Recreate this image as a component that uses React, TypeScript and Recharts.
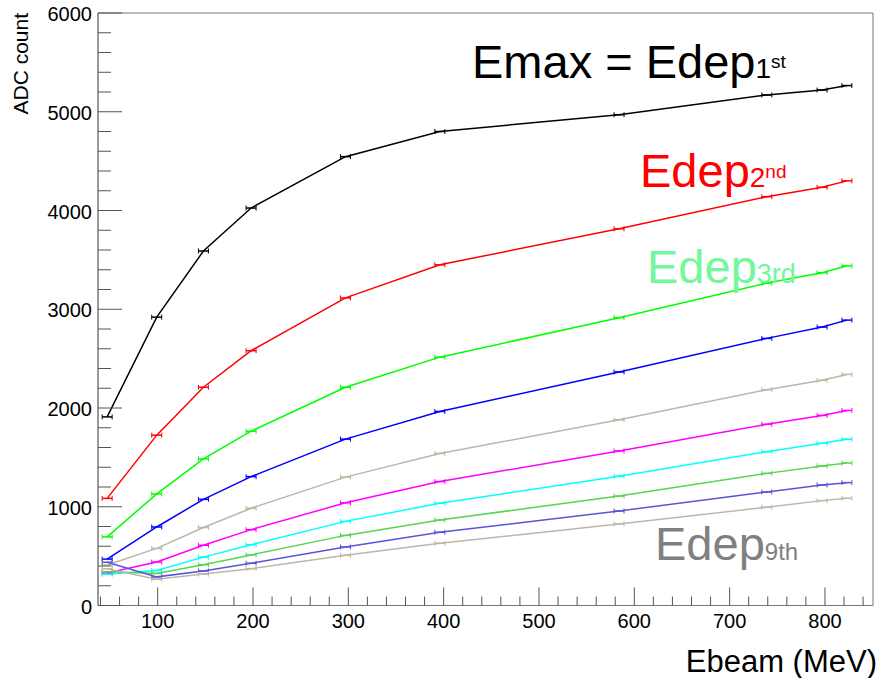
import { LineChart, Line, XAxis, YAxis, ReferenceArea } from "recharts";

// beam energies (MeV)
const ebeam = [47, 99, 148, 198, 297, 396, 584, 739, 797, 823];

// ADC counts for the 1st .. 10th highest deposit
const edep1 = [1910, 2920, 3590, 4025, 4545, 4800, 4970, 5170, 5220, 5265];
const edep2 = [1085, 1725, 2210, 2580, 3115, 3450, 3815, 4140, 4235, 4300];
const edep3 = [695, 1130, 1485, 1765, 2210, 2515, 2915, 3265, 3370, 3440];
const edep4 = [470, 795, 1075, 1305, 1685, 1965, 2365, 2705, 2820, 2890];
const edep5 = [410, 578, 790, 985, 1300, 1540, 1880, 2185, 2280, 2340];
const edep6 = [330, 440, 610, 768, 1040, 1255, 1565, 1835, 1925, 1975];
const edep7 = [316, 355, 490, 615, 852, 1035, 1310, 1558, 1643, 1684];
const edep8 = [342, 325, 413, 512, 710, 866, 1108, 1338, 1413, 1443];
const edep9 = [438, 290, 350, 428, 593, 742, 957, 1150, 1220, 1244];
const edep10 = [372, 265, 318, 373, 508, 630, 826, 995, 1062, 1086];

const series = [edep1, edep2, edep3, edep4, edep5, edep6, edep7, edep8, edep9, edep10];
const colors = [
  "#000000", "#ff0000", "#00ff00", "#0000ff", "#bdb7a7",
  "#ff00ff", "#00ffff", "#59d454", "#5954d8", "#bdb7a7",
];

const xTicks = Array.from({ length: 42 }, (_, i) => 40 + i * 20);
const yTicks = Array.from({ length: 31 }, (_, i) => i * 200);

const data = ebeam.map((e, i) => {
  const row: Record<string, number> = { e };
  series.forEach((s, k) => (row[`s${k}`] = s[i]));
  return row;
});

const FONT = "'Liberation Sans', Arial, Helvetica, sans-serif";

const XTick = (p: any) => {
  const v = p.payload.value;
  const major = v % 100 === 0;
  return (
    <g>
      <line x1={p.x} x2={p.x} y1={p.y} y2={p.y - (major ? 18 : 9)} stroke="#555" />
      {major && (
        <text x={p.x} y={p.y + 22} textAnchor="middle" fontSize={20} fontFamily={FONT} fill="#000">
          {v}
        </text>
      )}
    </g>
  );
};

const YTick = (p: any) => {
  const v = p.payload.value;
  const major = v % 1000 === 0;
  return (
    <g>
      <line x1={p.x} x2={p.x + (major ? 24 : 13)} y1={p.y} y2={p.y} stroke="#555" />
      {major && (
        <text x={p.x - 6} y={p.y + 8} textAnchor="end" fontSize={20} fontFamily={FONT} fill="#000">
          {v}
        </text>
      )}
    </g>
  );
};

const errDot = (color: string) => (p: any) => {
  const { cx, cy, index } = p;
  return (
    <g key={index}>
      <line x1={cx - 5} x2={cx + 5} y1={cy} y2={cy} stroke={color} strokeWidth={1.5} />
      <line x1={cx - 5} x2={cx - 5} y1={cy - 2.5} y2={cy + 2.5} stroke={color} />
      <line x1={cx + 5} x2={cx + 5} y1={cy - 2.5} y2={cy + 2.5} stroke={color} />
    </g>
  );
};

export default function App() {
  return (
    <div style={{ position: "relative", width: 881, height: 678, background: "#fff" }}>
      <style>{"body{margin:0}"}</style>
      <LineChart width={881} height={678} data={data} margin={{ top: 13, right: 8, bottom: 0, left: 0 }}>
        <ReferenceArea x1={37.4} x2={850.4} y1={0} y2={6000} fill="none" stroke="#777" ifOverflow="visible" />
        <XAxis
          dataKey="e"
          type="number"
          domain={[37.4, 850.4]}
          ticks={xTicks}
          interval={0}
          height={72.5}
          tickSize={0}
          tickMargin={0}
          tickLine={false}
          axisLine={{ stroke: "#777" }}
          tick={XTick}
          allowDataOverflow
        />
        <YAxis
          type="number"
          domain={[0, 6000]}
          ticks={yTicks}
          interval={0}
          width={98}
          tickSize={0}
          tickMargin={0}
          tickLine={false}
          axisLine={{ stroke: "#777" }}
          tick={YTick}
        />
        {series.map((_, k) => (
          <Line
            key={k}
            type="linear"
            dataKey={`s${k}`}
            stroke={colors[k]}
            strokeWidth={1.5}
            dot={errDot(colors[k])}
            activeDot={false}
            isAnimationActive={false}
          />
        ))}
      </LineChart>
      <svg width={881} height={678} style={{ position: "absolute", left: 0, top: 0, pointerEvents: "none" }} fontFamily={FONT}>
        <text x={472} y={78} fontSize={47} fill="#000">
          Emax = Edep<tspan fontSize={28}>1</tspan>
          <tspan fontSize={19} dy={-10}>st</tspan>
        </text>
        <text x={640} y={187} fontSize={47} fill="#ff0000">
          Edep<tspan fontSize={28}>2</tspan>
          <tspan fontSize={19} dy={-9}>nd</tspan>
        </text>
        <text x={647} y={283} fontSize={47} fill="#73f79c">
          Edep<tspan fontSize={27}>3rd</tspan>
        </text>
        <text x={655} y={560} fontSize={47} fill="#808080">
          Edep<tspan fontSize={24}>9th</tspan>
        </text>
        <text x={877} y={672} fontSize={31} textAnchor="end" fill="#000">
          Ebeam (MeV)
        </text>
        <text transform="translate(28,13) rotate(-90)" fontSize={21} textAnchor="end" fill="#000">
          ADC count
        </text>
      </svg>
    </div>
  );
}
